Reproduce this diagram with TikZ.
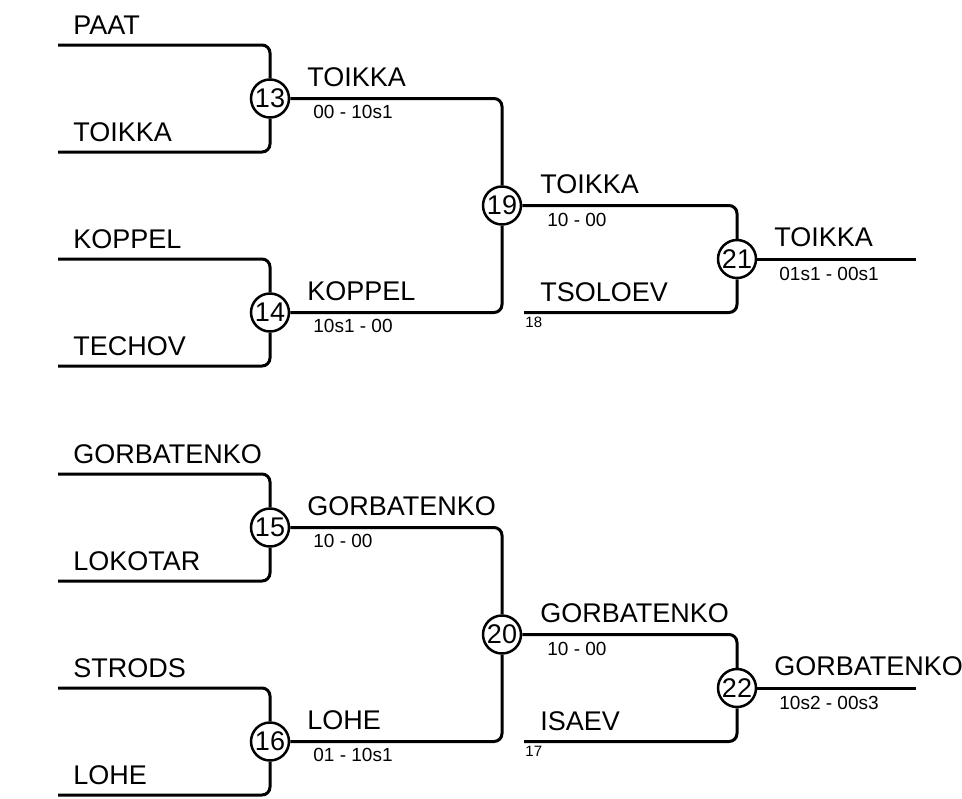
\documentclass[tikz,border=0pt]{standalone}
\usepackage{fontspec}
\setmainfont{Liberation Sans}
\usetikzlibrary{positioning}

\begin{document}
\begin{tikzpicture}[x=0.5pt, y=-0.5pt,
  bout/.style={circle,draw,line width=1.25pt,inner sep=0pt,minimum size=19pt,font=\fontsize{13.5}{15}\selectfont},
  wire/.style={line width=1.5pt,rounded corners=4pt},
  athlete/.style={anchor=base west,inner sep=0pt,font=\fontsize{13.5}{15}\selectfont},
  score/.style={anchor=base west,inner sep=0pt,font=\fontsize{9.5}{11}\selectfont},
  seed/.style={anchor=base west,inner sep=0pt,font=\fontsize{7.5}{9}\selectfont}]
  \useasboundingbox (0,0) rectangle (962,798);
  % bouts
  \node[bout] (m13) at (270,98.5) {13};
  \node[bout] (m14) at (270,312.5) {14};
  \node[bout] (m15) at (270,527.5) {15};
  \node[bout] (m16) at (270,741.5) {16};
  \node[bout] (m19) at (502,205.5) {19};
  \node[bout] (m20) at (502,634.5) {20};
  \node[bout] (m21) at (737,259) {21};
  \node[bout] (m22) at (737,688) {22};
  % line ends
  \coordinate (s1) at (58,45);
  \coordinate (s2) at (58,152);
  \coordinate (s3) at (58,259);
  \coordinate (s4) at (58,366);
  \coordinate (s5) at (58,474);
  \coordinate (s6) at (58,581);
  \coordinate (s7) at (58,688);
  \coordinate (s8) at (58,795);
  \coordinate (q18) at (524,312.5);
  \coordinate (q17) at (524,741.5);
  \coordinate (w21) at (916,259);
  \coordinate (w22) at (916,688);
  % bracket lines
  \draw[wire] (s1) -| (m13);
  \draw[wire] (s2) -| (m13);
  \draw[wire] (s3) -| (m14);
  \draw[wire] (s4) -| (m14);
  \draw[wire] (s5) -| (m15);
  \draw[wire] (s6) -| (m15);
  \draw[wire] (s7) -| (m16);
  \draw[wire] (s8) -| (m16);
  \draw[wire] (m13) -| (m19);
  \draw[wire] (m14) -| (m19);
  \draw[wire] (m15) -| (m20);
  \draw[wire] (m16) -| (m20);
  \draw[wire] (m19) -| (m21);
  \draw[wire] (q18) -| (m21);
  \draw[wire] (m20) -| (m22);
  \draw[wire] (q17) -| (m22);
  \draw[wire] (m21) -- (w21);
  \draw[wire] (m22) -- (w22);
  % names
  \node[athlete] (n1) at (73,34) {PAAT};
  \node[athlete] (n2) at (73,141) {TOIKKA};
  \node[athlete] (n3) at (73,248) {KOPPEL};
  \node[athlete] (n4) at (73,355) {TECHOV};
  \node[athlete] (n5) at (73,463) {GORBATENKO};
  \node[athlete] (n6) at (73,570) {LOKOTAR};
  \node[athlete] (n7) at (73,677) {STRODS};
  \node[athlete] (n8) at (73,784) {LOHE};
  % winners and scores
  \node[athlete] (v13) at (307,86.5) {TOIKKA};
  \node[score] (r13) at (313,118.5) {00 - 10s1};
  \node[athlete] (v14) at (307,300.5) {KOPPEL};
  \node[score] (r14) at (313,332.5) {10s1 - 00};
  \node[athlete] (v15) at (307,515.5) {GORBATENKO};
  \node[score] (r15) at (313,547.5) {10 - 00};
  \node[athlete] (v16) at (307,729.5) {LOHE};
  \node[score] (r16) at (313,761.5) {01 - 10s1};
  \node[athlete] (v19) at (540,193.5) {TOIKKA};
  \node[score] (r19) at (547,226) {10 - 00};
  \node[athlete] (t18) at (540,301) {TSOLOEV};
  \node[seed] (k18) at (525,327) {18};
  \node[athlete] (v20) at (540,622.5) {GORBATENKO};
  \node[score] (r20) at (547,655) {10 - 00};
  \node[athlete] (t17) at (540,730) {ISAEV};
  \node[seed] (k17) at (525,756) {17};
  \node[athlete] (v21) at (774,246) {TOIKKA};
  \node[score] (r21) at (779,280) {01s1 - 00s1};
  \node[athlete] (v22) at (774,675) {GORBATENKO};
  \node[score] (r22) at (779,709) {10s2 - 00s3};
\end{tikzpicture}
\end{document}
